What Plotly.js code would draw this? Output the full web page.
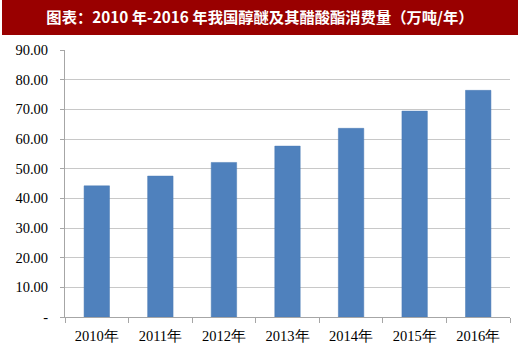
<!DOCTYPE html>
<html><head><meta charset="utf-8">
<script src="https://cdn.plot.ly/plotly-3.0.1.min.js"></script>
<style>body{margin:0;padding:0;background:#fff}#c{width:520px;height:351px}</style>
</head><body><div id="c"></div>
<script>
const categories = ["2010年","2011年","2012年","2013年","2014年","2015年","2016年"];
const values = [44.2, 47.5, 52.1, 57.6, 63.6, 69.4, 76.4];
const tickVals = [0,10,20,30,40,50,60,70,80,90];
const tickText = ["-","10.00","20.00","30.00","40.00","50.00","60.00","70.00","80.00","90.00"];
const titleText = "图表：2010 年-2016 年我国醇醚及其醋酸酯消费量（万吨/年）";

const W=520,H=351,L=65,R=10,T=50,B=34;
const pw=W-L-R, ph=H-T-B;
const px2x = p => (p-L)/pw;
const py2y = p => (H-B-p)/ph;

Plotly.newPlot('c',[{
  type:'bar', x:categories, y:values,
  marker:{color:'#4f81bd', line:{color:'#4a7ab4', width:0.5}},
  hoverinfo:'none'
}],{
  width:W,height:H,
  margin:{l:L,r:R,t:T,b:B,pad:0},
  paper_bgcolor:'#fff',plot_bgcolor:'#fff',
  bargap:0.6,
  showlegend:false,
  title:{text:titleText, x:0.5, xanchor:'center', xref:'container', y:1-17.5/H, yanchor:'middle', yref:'container',
    font:{family:'Noto Sans CJK SC, serif', size:15.3, color:'#fff', weight:'bold'}},
  shapes:[{type:'rect', xref:'paper', yref:'paper', x0:px2x(2), x1:px2x(518), y0:py2y(35), y1:py2y(0),
    fillcolor:'#990000', line:{width:0}, layer:'below'}],
  xaxis:{type:'category', showgrid:false, showline:true, linecolor:'#a6a6a6', linewidth:1,
    ticks:'outside', tickson:'boundaries', ticklen:5, tickcolor:'#a6a6a6', ticklabelstandoff:6,
    tickfont:{family:'Liberation Serif, Times New Roman, serif', size:14.5, color:'#000'}, fixedrange:true},
  yaxis:{range:[0,90], tickvals:tickVals, ticktext:tickText, showgrid:true, gridcolor:'#c8c8c8', gridwidth:1,
    showline:true, linecolor:'#a6a6a6', linewidth:1, ticks:'outside', ticklen:4, tickcolor:'#a6a6a6',
    zeroline:false, tickfont:{family:'Liberation Serif, Times New Roman, serif', size:14.5, color:'#000'}, ticklabelstandoff:9}
},{staticPlot:true});
</script></body></html>
